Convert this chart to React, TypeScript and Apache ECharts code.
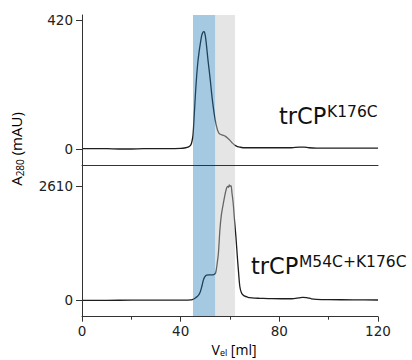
import React, { useEffect, useRef } from "react";
import * as echarts from "echarts";

// ---- data ----
const topX = [0, 5, 10, 15, 20, 25, 30, 35, 40, 42, 43, 44, 44.5, 45, 45.5, 46, 46.5, 47, 47.5, 48, 48.5, 49, 49.5, 50, 50.5, 51, 51.5, 52, 52.5, 53, 53.5, 54, 54.5, 55, 55.5, 56, 57, 58, 59, 60, 61, 62, 63, 64, 66, 70, 75, 80, 85, 88, 90, 92, 95, 100, 110, 120];
const topY = [1, 1, 1, 0, 0, 1, 1, 1, 2, 4, 6, 12, 22, 45, 110, 180, 240, 285, 318, 345, 368, 380, 382, 368, 335, 295, 260, 225, 185, 150, 120, 95, 75, 60, 52, 48, 45, 42, 36, 28, 19, 12, 8, 6, 4, 4, 4, 4, 4, 6, 6, 4, 3, 3, 3, 3];

const botX = [0, 10, 20, 30, 40, 43, 44, 44.7, 45.5, 46, 47, 47.8, 48.5, 49.2, 49.7, 50.5, 51.5, 52.5, 53.5, 54.2, 54.7, 55.3, 55.9, 56.5, 57.3, 58, 58.6, 59.1, 59.4, 59.7, 60, 60.4, 60.8, 61.3, 61.8, 62.4, 62.9, 63.4, 64, 64.6, 65.3, 66, 67, 68, 70, 72, 77, 85, 88, 89.5, 91, 93, 95, 100, 110, 120];
const botY = [0, 0, 2, 2, 3, 5, 8, 15, 35, 55, 100, 170, 300, 460, 530, 575, 580, 580, 590, 630, 800, 1073, 1605, 1950, 2215, 2420, 2557, 2600, 2580, 2635, 2600, 2620, 2450, 2215, 1850, 1450, 1050, 690, 310, 180, 121, 95, 75, 60, 50, 46, 37, 35, 55, 68, 60, 35, 23, 15, 10, 7];

// fraction bands [start, end]
const bandStart = [45, 54];
const bandEnd = [54, 62];
const bandColors = ["rgba(31,119,180,0.4)", "rgba(195,195,195,0.44)"];

const xTicks = [0, 40, 80, 120];
const topTicks = [0, 420];
const botTicks = [0, 2610];

const topLabel = "trCP";
const topSup = "K176C";
const botLabel = "trCP";
const botSup = "M54C+K176C";

const LINE = "#1e1e1e";
const AXIS = "#333";

export default function App() {
  const ref = useRef<HTMLDivElement>(null);
  useEffect(() => {
    if (!ref.current) return;
    const chart = echarts.init(ref.current, undefined, { renderer: "svg" });
    const topData = topX.map((x, i) => [x, topY[i]]);
    const botData = botX.map((x, i) => [x, botY[i]]);
    const bandData = bandStart.map((s, i) => [s, bandEnd[i], i]);

    const bandSeries = (idx: number) => ({
      type: "custom",
      xAxisIndex: idx,
      yAxisIndex: idx,
      z: 5,
      silent: true,
      clip: false,
      encode: { x: [0, 1] },
      data: bandData,
      renderItem: (params: any, api: any) => {
        const a = api.coord([api.value(0), 0]);
        const b = api.coord([api.value(1), 0]);
        const cs = params.coordSys;
        return {
          type: "rect",
          shape: { x: a[0], y: cs.y, width: b[0] - a[0], height: cs.height },
          style: { fill: bandColors[api.value(2)] },
        };
      },
    });

    const ff = "DejaVu Sans";
    const tf = "Open Sans";
    const fmt = (v: number) => String(v);

    chart.setOption({
      animation: false,
      backgroundColor: "#fff",
      grid: [
        { left: 82, right: 34, top: 15, bottom: 194.3 },
        { left: 82, right: 34, top: 165.7, bottom: 43.3 },
      ],
      xAxis: [
        {
          gridIndex: 0,
          type: "value",
          min: 0,
          max: 120,
          interval: 40,
          z: 20,
          axisLine: { show: true, onZero: false, lineStyle: { color: AXIS, width: 1 } },
          axisTick: { show: false },
          axisLabel: { show: false },
          splitLine: { show: false },
        },
        {
          gridIndex: 1,
          type: "value",
          min: 0,
          max: 120,
          interval: 40,
          z: 20,
          axisLine: { show: true, onZero: false, lineStyle: { color: AXIS, width: 1 } },
          axisTick: { show: true, length: 5, lineStyle: { color: AXIS } },
          minorTick: { show: true, splitNumber: 2, length: 3, lineStyle: { color: AXIS } },
          axisLabel: {
            show: true,
            margin: 7,
            fontFamily: ff,
            fontSize: 13.5,
            color: "#222",
            formatter: fmt,
          },
          splitLine: { show: false },
        },
      ],
      yAxis: [
        {
          gridIndex: 0,
          type: "value",
          min: -54.4,
          max: 436.3,
          z: 20,
          axisLine: { show: true, onZero: false, lineStyle: { color: AXIS, width: 1 } },
          axisTick: { show: true, length: 6, customValues: topTicks, lineStyle: { color: AXIS } },
          axisLabel: { show: true, margin: 9, fontFamily: ff, fontSize: 13.5, color: "#222", customValues: topTicks, formatter: fmt },
          splitLine: { show: false },
        },
        {
          gridIndex: 1,
          type: "value",
          min: -374.5,
          max: 3073.5,
          z: 20,
          axisLine: { show: true, onZero: false, lineStyle: { color: AXIS, width: 1 } },
          axisTick: { show: true, length: 6, customValues: botTicks, lineStyle: { color: AXIS } },
          axisLabel: { show: true, margin: 9, fontFamily: ff, fontSize: 13.5, color: "#222", customValues: botTicks, formatter: fmt },
          splitLine: { show: false },
        },
      ],
      series: [
        {
          type: "line",
          xAxisIndex: 0,
          yAxisIndex: 0,
          data: topData,
          showSymbol: false,
          smooth: 0.3,
          z: 3,
          lineStyle: { color: LINE, width: 1.3 },
        },
        {
          type: "line",
          xAxisIndex: 1,
          yAxisIndex: 1,
          data: botData,
          showSymbol: false,
          smooth: 0.3,
          z: 3,
          lineStyle: { color: LINE, width: 1.3 },
        },
        bandSeries(0),
        bandSeries(1),
      ],
      graphic: [
        {
          type: "text",
          x: 279,
          y: 116,
          style: { text: topLabel, font: `22.5px "${ff}"`, fill: "#111", align: "left", verticalAlign: "middle" },
        },
        {
          type: "text",
          x: 327,
          y: 111.5,
          style: { text: topSup, font: `15.5px "${ff}"`, fill: "#111", align: "left", verticalAlign: "middle" },
        },
        {
          type: "text",
          x: 251,
          y: 266.3,
          style: { text: botLabel, font: `22.5px "${ff}"`, fill: "#111", align: "left", verticalAlign: "middle" },
        },
        {
          type: "text",
          x: 299,
          y: 262,
          style: { text: botSup, font: `15.5px "${ff}"`, fill: "#111", align: "left", verticalAlign: "middle" },
        },
        {
          type: "text",
          x: 16,
          y: 149,
          rotation: Math.PI / 2,
          style: {
            text: "{a|A}{s|280}{a| (mAU)}",
            align: "center",
            verticalAlign: "middle",
            rich: {
              a: { fontFamily: tf, fontSize: 15, color: "#222", lineHeight: 18, verticalAlign: "middle" },
              s: { fontFamily: tf, fontSize: 10, color: "#222", verticalAlign: "bottom" },
            },
          },
        },
        {
          type: "text",
          x: 234,
          y: 349,
          style: {
            text: "{a|V}{s|el}{a| [ml]}",
            align: "center",
            verticalAlign: "middle",
            rich: {
              a: { fontFamily: tf, fontSize: 14, color: "#222", lineHeight: 16, verticalAlign: "middle" },
              s: { fontFamily: tf, fontSize: 9, color: "#222", verticalAlign: "bottom" },
            },
          },
        },
      ],
    });
    return () => chart.dispose();
  }, []);
  return <div ref={ref} style={{ width: 412, height: 360, position: "absolute", left: 0, top: 0 }} />;
}
